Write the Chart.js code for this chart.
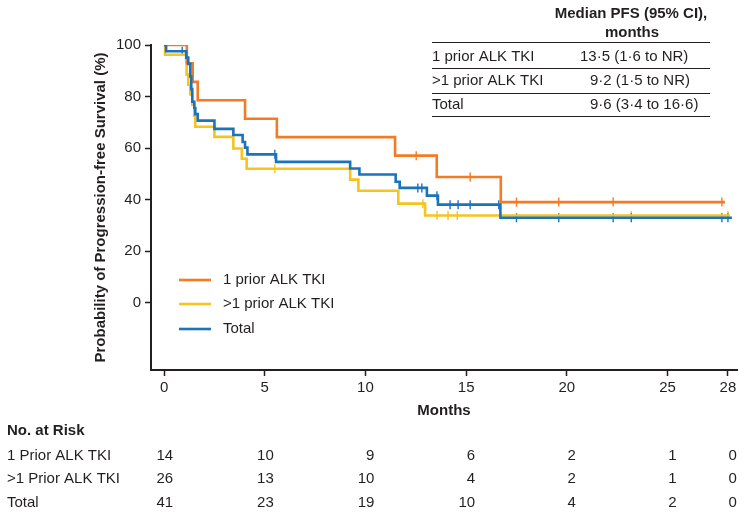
<!DOCTYPE html>
<html>
<head>
<meta charset="utf-8">
<script src="https://cdn.jsdelivr.net/npm/chart.js@4.4.1/dist/chart.umd.min.js"></script>
<style>
  html, body { margin: 0; padding: 0; background: #fff; }
</style>
</head>
<body>
<canvas id="pfsChart" width="751" height="519"></canvas>
<script>
// axis ticks
var xTicks = [0, 5, 10, 15, 20, 25, 28];
var yTicks = [0, 20, 40, 60, 80, 100];

// Kaplan-Meier steps (months, % progression-free)
var oneTimes = [0, 1.13, 1.42, 1.67, 4.02, 5.6, 11.47, 13.54, 16.72, 27.85];
var oneSurv  = [100, 92.9, 85.7, 78.6, 71.4, 64.3, 57.1, 48.8, 39.1, 39.1];
var oneCens  = [12.52, 15.2, 17.5, 19.6, 22.3, 27.7];

var moreTimes = [0, 0.05, 1.12, 1.2, 1.3, 1.4, 1.5, 1.55, 2.5, 3.44, 3.86, 4.1, 9.24, 9.65, 11.63, 12.96, 28.1];
var moreSurv  = [100, 96.2, 88.5, 84.6, 80.8, 76.9, 72.6, 68.3, 64.4, 59.9, 55.9, 52.0, 47.8, 43.5, 38.5, 33.9, 33.9];
var moreCens  = [5.5, 12.85, 13.55, 14.1, 14.56, 23.2, 28.0];

var totalTimes = [0, 0.1, 1.1, 1.2, 1.3, 1.35, 1.4, 1.5, 1.55, 1.67, 2.5, 3.44, 3.9, 4.02, 4.14, 5.56, 9.24, 9.7, 11.5, 11.7, 13.05, 13.6, 16.7, 28.2];
var totalSurv  = [100, 97.6, 95.1, 92.7, 87.8, 82.9, 78.0, 75.6, 73.2, 70.7, 67.5, 65.1, 62.4, 60.2, 57.6, 54.7, 52.1, 49.8, 47.0, 44.6, 41.6, 38.1, 33.0, 33.0];
var totalCens  = [0.9, 5.5, 12.6, 12.8, 13.55, 14.2, 14.6, 15.2, 16.62, 17.5, 19.6, 22.3, 23.2, 27.7, 28.0];

// number at risk
var riskTimes = [0, 5, 10, 15, 20, 25, 28];
var riskLabels = ['1 Prior ALK TKI', '>1 Prior ALK TKI', 'Total'];
var riskOne   = [14, 10, 9, 6, 2, 1, 0];
var riskMore  = [26, 13, 10, 4, 2, 1, 0];
var riskTotal = [41, 23, 19, 10, 4, 2, 0];

// median table
var medianGroups = ['1 prior ALK TKI', '>1 prior ALK TKI', 'Total'];
var medianText = ['13\u00b75 (1\u00b76 to NR)', '9\u00b72 (1\u00b75 to NR)', '9\u00b76 (3\u00b74 to 16\u00b76)'];

var legendNames = ['1 prior ALK TKI', '>1 prior ALK TKI', 'Total'];

var ORANGE = '#f47a24';
var YELLOW = '#f6c41e';
var BLUE = '#1b74bb';
var INK = '#231f20';
var FONT = '"Liberation Sans", Arial, Helvetica, sans-serif';

function toPoints(times, surv){
  var pts = [];
  for (var i = 0; i < times.length; i++) pts.push({x: times[i], y: surv[i]});
  return pts;
}

// censor mark sits on the curve level at that time
function censorPoints(cens, times, surv){
  var pts = [];
  for (var c = 0; c < cens.length; c++){
    var lvl = surv[0];
    for (var i = 0; i < times.length; i++){
      if (times[i] <= cens[c]) lvl = surv[i];
    }
    pts.push({x: cens[c], y: lvl});
  }
  return pts;
}

function curve(label, times, surv, color){
  return {
    label: label,
    data: toPoints(times, surv),
    borderColor: color,
    backgroundColor: color,
    borderWidth: 2.6,
    stepped: true,
    pointRadius: 0,
    fill: false
  };
}

function ticksSet(label, cens, times, surv, color){
  return {
    label: label,
    data: censorPoints(cens, times, surv),
    showLine: false,
    pointStyle: 'line',
    rotation: 90,
    pointRadius: 4.5,
    pointBorderWidth: 1.4,
    borderColor: color,
    backgroundColor: color
  };
}

var extrasPlugin = {
  id: 'extras',
  afterDraw: function(chart){
    var ctx = chart.ctx;
    var xs = chart.scales.x;
    ctx.save();
    ctx.fillStyle = INK;
    ctx.textBaseline = 'middle';

    // legend inside the plot
    var legColors = [ORANGE, YELLOW, BLUE];
    var legY = [280, 304, 329];
    ctx.font = '15px ' + FONT;
    for (var i = 0; i < legendNames.length; i++){
      ctx.strokeStyle = legColors[i];
      ctx.lineWidth = 2.6;
      ctx.beginPath();
      ctx.moveTo(179, legY[i]);
      ctx.lineTo(211, legY[i]);
      ctx.stroke();
      ctx.fillText(legendNames[i], 223, legY[i]);
    }

    // median PFS table
    ctx.font = 'bold 15px ' + FONT;
    ctx.textAlign = 'center';
    ctx.fillText('Median PFS (95% CI),', 631, 14);
    ctx.fillText('months', 632, 33);
    ctx.strokeStyle = INK;
    ctx.lineWidth = 1;
    var lineY = [42.5, 68.5, 93.5, 116.5];
    for (var l = 0; l < lineY.length; l++){
      ctx.beginPath();
      ctx.moveTo(432, lineY[l]);
      ctx.lineTo(710, lineY[l]);
      ctx.stroke();
    }
    ctx.font = '15px ' + FONT;
    var rowY = [57, 81, 105];
    var valX = [580, 590, 590];
    for (var r = 0; r < medianGroups.length; r++){
      ctx.textAlign = 'left';
      ctx.fillText(medianGroups[r], 432, rowY[r]);
      ctx.fillText(medianText[r], valX[r], rowY[r]);
    }

    // number at risk table
    ctx.textAlign = 'left';
    ctx.font = 'bold 15px ' + FONT;
    ctx.fillText('No. at Risk', 7, 431);
    ctx.font = '15px ' + FONT;
    var rows = [riskOne, riskMore, riskTotal];
    var rY = [456, 479, 503];
    for (var k = 0; k < rows.length; k++){
      ctx.textAlign = 'left';
      ctx.fillText(riskLabels[k], 7, rY[k]);
      ctx.textAlign = 'right';
      for (var j = 0; j < riskTimes.length; j++){
        ctx.fillText(String(rows[k][j]), xs.getPixelForValue(riskTimes[j]) + 9, rY[k]);
      }
    }
    ctx.restore();
  }
};

function drawChart(){
  var ctx = document.getElementById('pfsChart').getContext('2d');
  Chart.defaults.font.family = FONT;
  Chart.defaults.color = INK;

  var chart = new Chart(ctx, {
    type: 'line',
    data: {
      datasets: [
        curve('Total', totalTimes, totalSurv, BLUE),
        curve('1 prior ALK TKI', oneTimes, oneSurv, ORANGE),
        curve('>1 prior ALK TKI', moreTimes, moreSurv, YELLOW),
        ticksSet('Total censored', totalCens, totalTimes, totalSurv, BLUE),
        ticksSet('1 prior censored', oneCens, oneTimes, oneSurv, ORANGE),
        ticksSet('>1 prior censored', moreCens, moreTimes, moreSurv, YELLOW)
      ]
    },
    options: {
      responsive: false,
      animation: false,
      events: [],
      layout: { padding: { left: 0, top: 45, right: 14, bottom: 99 } },
      plugins: {
        legend: { display: false },
        tooltip: { enabled: false }
      },
      scales: {
        x: {
          type: 'linear',
          min: -0.65,
          max: 28.45,
          afterBuildTicks: function(scale){
            scale.ticks = xTicks.map(function(v){ return {value: v}; });
          },
          afterFit: function(scale){ scale.height = 50; },
          ticks: { font: { size: 15 }, color: INK, padding: 3, maxRotation: 0 },
          grid: { drawOnChartArea: false, drawTicks: true, tickLength: 6, tickWidth: 1.5, tickColor: INK },
          border: { display: true, color: INK, width: 2 },
          title: { display: true, text: 'Months', font: { size: 15, weight: 'bold' }, color: INK, padding: 0 }
        },
        y: {
          type: 'linear',
          min: -26,
          max: 100,
          afterBuildTicks: function(scale){
            scale.ticks = yTicks.map(function(v){ return {value: v}; });
          },
          afterFit: function(scale){ scale.width = 151; },
          ticks: { font: { size: 15 }, color: INK, padding: 4 },
          grid: { drawOnChartArea: false, drawTicks: true, tickLength: 6, tickWidth: 1.5, tickColor: INK },
          border: { display: true, color: INK, width: 2 },
          title: { display: true, text: 'Probability of Progression-free Survival (%)', font: { size: 15, weight: 'bold' }, color: INK, padding: { top: 92, bottom: 0 } }
        }
      }
    },
    plugins: [extrasPlugin]
  });
}

drawChart();
</script>
</body>
</html>
